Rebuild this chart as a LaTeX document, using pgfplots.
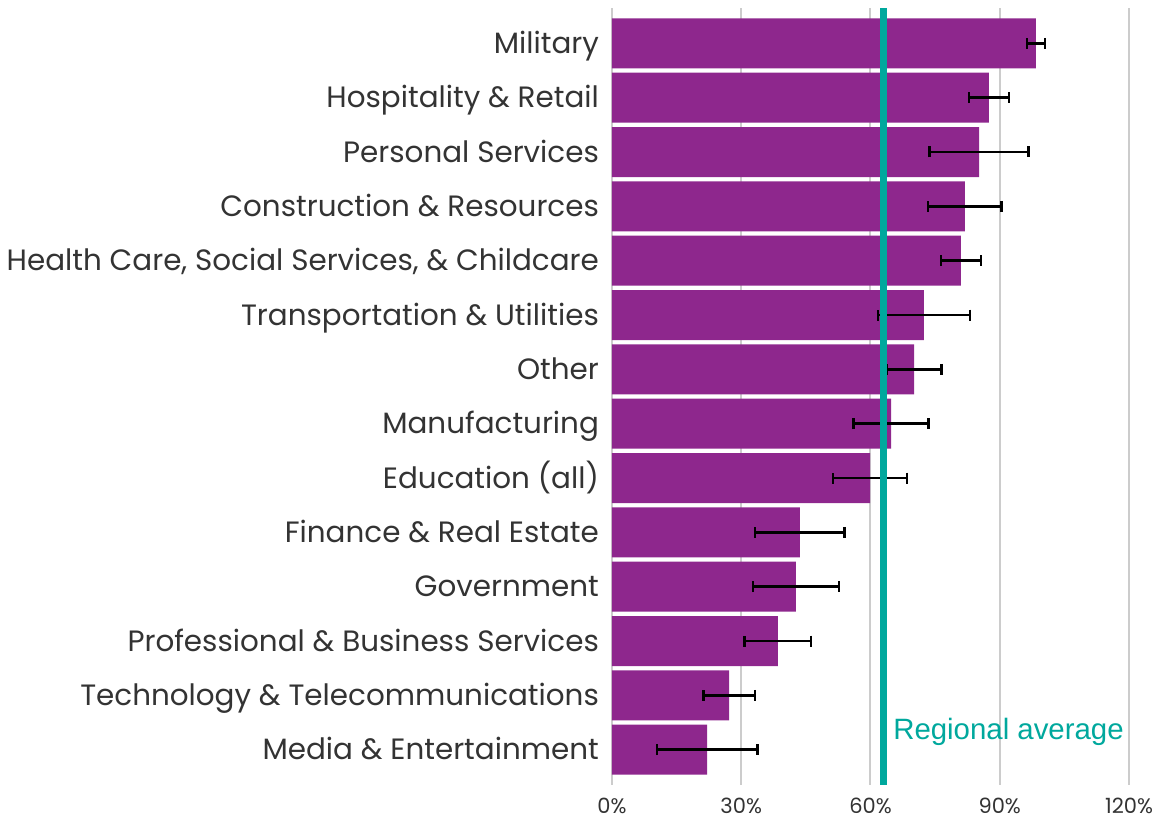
\documentclass[border=0pt]{standalone}
\usepackage{fontspec}
\setmainfont{Poppins}
\newfontfamily\arialfont{Liberation Sans}
\usepackage{pgfplots}
\pgfplotsset{compat=1.18}
\usepackage{pgfplotstable}
\definecolor{barpurple}{HTML}{8E278D}
\definecolor{avgteal}{HTML}{00A89D}
\definecolor{txt}{HTML}{333333}
\definecolor{gridgray}{HTML}{CCCCCC}

% idx value error (idx 0 = top row)
\pgfplotstableread{
idx val err
0  98.4  2.1
1  87.5  4.6
2  85.2 11.5
3  81.9  8.5
4  81.0  4.6
5  72.4 10.7
6  70.1  6.4
7  64.8  8.7
8  59.9  8.6
9  43.6 10.4
10 42.7 10.0
11 38.5  7.7
12 27.2  6.0
13 22.1 11.7
}\sectors

\begin{document}
\begin{tikzpicture}
\useasboundingbox (-306pt,-18pt) rectangle (270pt,392.5pt);
\begin{axis}[
  at={(0,0)}, anchor=south west,
  scale only axis,
  width=258.5pt, height=388.5pt,
  xmin=0, xmax=120,
  ymin=-0.65, ymax=13.65,
  y dir=reverse,
  xbar, bar width=25pt,
  axis line style={draw=none},
  xmajorgrids,
  grid style={gridgray, line width=1pt},
  major tick length=0pt,
  xtick={0,30,60,90,120},
  xticklabels={0\%,30\%,60\%,90\%,120\%},
  ytick={0,...,13},
  yticklabels={Military, Hospitality \& Retail, Personal Services, Construction \& Resources, {Health Care, Social Services, \& Childcare}, Transportation \& Utilities, Other, Manufacturing, Education (all), Finance \& Real Estate, Government, Professional \& Business Services, Technology \& Telecommunications, Media \& Entertainment},
  yticklabel style={font=\fontsize{14.7}{17}\selectfont, text=txt, xshift=-3pt, yshift=-1.5pt, text height=10.5pt, text depth=3.5pt},
  xticklabel style={font=\fontsize{10.5}{12}\selectfont, text=txt, yshift=-3pt},
  clip=false,
]
\addplot[fill=barpurple, draw=none,
  error bars/.cd, x dir=both, x explicit,
  error bar style={black, line width=1.2pt},
  error mark options={black, line width=1.2pt, mark size=2.75pt, rotate=90}]
  table[x=val, y=idx, x error=err] {\sectors};
\addplot[avgteal, line width=3.5pt, xbar=0pt, forget plot, sharp plot] coordinates {(63.1,-0.65) (63.1,13.65)};
\node[anchor=west, text=avgteal, font=\arialfont\fontsize{14.7}{16}\selectfont, inner sep=0pt] at (axis cs:65.2,12.68) {Regional average};
\end{axis}
\end{tikzpicture}
\end{document}
